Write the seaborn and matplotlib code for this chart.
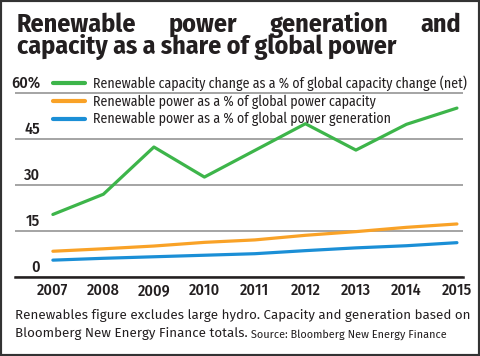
import matplotlib
matplotlib.use("Agg")
import matplotlib.pyplot as plt
from matplotlib.patches import Rectangle
import pandas as pd
import seaborn as sns

# --- data ---
years = [2007, 2008, 2009, 2010, 2011, 2012, 2013, 2014, 2015]
capacity_change = [20.4, 27.0, 42.4, 32.6, 41.3, 50.0, 41.4, 49.8, 55.1]
power_capacity = [8.4, 9.2, 10.1, 11.3, 12.1, 13.6, 14.8, 16.2, 17.3]
power_generation = [5.5, 6.1, 6.6, 7.1, 7.6, 8.6, 9.5, 10.2, 11.2]

series_names = [
    "Renewable capacity change as a % of global capacity change (net)",
    "Renewable power as a % of global power capacity",
    "Renewable power as a % of global power generation",
]
series_colors = ["#3db54a", "#f9a227", "#1b8fd6"]
y_ticks = [0, 15, 30, 45, 60]
y_tick_labels = ["0", "15", "30", "45", "60%"]

title_line1 = ["Renewable", "power", "generation", "and"]
title_line2 = "capacity as a share of global power"
note_line1 = "Renewables figure excludes large hydro. Capacity and generation based on"
note_line2 = "Bloomberg New Energy Finance totals."
source = " Source: Bloomberg New Energy Finance"

df = pd.DataFrame({
    "year": years * 3,
    "value": capacity_change + power_capacity + power_generation,
    "series": [series_names[0]] * len(years) + [series_names[1]] * len(years)
    + [series_names[2]] * len(years),
})

sns.set_theme(style="white")
plt.rcParams["font.family"] = ["Fira Sans", "DejaVu Sans"]
cond = ["Fira Sans Condensed", "DejaVu Sans"]
text_color = "#231f20"

W, H = 480, 356
fig = plt.figure(figsize=(4.8, 3.56), dpi=100)
fig.canvas.draw()
renderer = fig.canvas.get_renderer()


def width_px(t):
    return t.get_window_extent(renderer).width


def fit_size(s, target_px, base=10, **kw):
    # font size giving the text the width measured on the reference
    t = fig.text(0, 0, s, fontsize=base, **kw)
    size = base * target_px / width_px(t)
    t.remove()
    return size


ax = fig.add_axes([15 / W, 79 / H, 448 / W, 0.5253])

sns.lineplot(data=df, x="year", y="value", hue="series", hue_order=series_names,
             palette=series_colors, linewidth=2.3, ax=ax, legend=True)

ax.set_xlim(2006.25, 2015.12)
ax.set_ylim(0, 61)
ax.set_yticks(y_ticks)
ax.set_yticklabels([])
ax.yaxis.grid(True, color="#8c8c8c", linewidth=1.1)
ax.set_axisbelow(True)

tick_size = fit_size("2007", 31, family=cond, fontweight=500)
ax.set_xticks(years)
ax.set_xticklabels([str(y) for y in years], fontsize=tick_size, fontweight=500,
                   family=cond, color=text_color)
ax.tick_params(axis="x", length=0, pad=4)
ax.tick_params(axis="y", length=0)
ax.set_xlabel("")
ax.set_ylabel("")
for side in ["top", "left", "right"]:
    ax.spines[side].set_visible(False)
ax.spines["bottom"].set_color(text_color)
ax.spines["bottom"].set_linewidth(1.8)

# y labels sit just above their gridlines
for val, lab in zip(y_ticks, y_tick_labels):
    ax.text(25 / 448, val + 1.6, lab, transform=ax.get_yaxis_transform(),
            ha="right", va="baseline", fontsize=tick_size, fontweight=500,
            family=cond, color=text_color)

leg_size = fit_size(series_names[0], 374, family=cond)
leg = ax.legend(loc="upper left", bbox_to_anchor=(38 / 448, 1.079), frameon=False,
                prop={"size": leg_size, "family": cond}, handlelength=2.3,
                handletextpad=0.6, labelspacing=0.25, borderaxespad=0, borderpad=0)
for t in leg.get_texts():
    t.set_color(text_color)
for h in leg.get_lines():
    h.set_linewidth(3)

# justified title, first line
title_size = fit_size(title_line2, 380, family=cond, fontweight=700)
x0, x1 = 17 / W, 461 / W
words = [fig.text(0, 1 - 32 / H, w, fontsize=title_size, fontweight=700,
                  family=cond, color=text_color, va="baseline", ha="left")
         for w in title_line1]
widths = [width_px(w) / W for w in words]
gap = (x1 - x0 - sum(widths)) / (len(words) - 1)
x = x0
for w, wd in zip(words, widths):
    w.set_x(x)
    x += wd + gap
fig.text(x0, 1 - 54 / H, title_line2, fontsize=title_size, fontweight=700,
         family=cond, color=text_color, va="baseline", ha="left")

# footnote
note_size = fit_size(note_line1, 452)
fig.text(15 / W, 1 - 319 / H, note_line1, fontsize=note_size, color=text_color,
         va="baseline")
t2 = fig.text(15 / W, 1 - 337 / H, note_line2, fontsize=note_size, color=text_color,
              va="baseline")
ax.annotate(source, xy=(1, 0), xycoords=t2, va="bottom", ha="left",
            fontsize=note_size * 0.82, color=text_color, annotation_clip=False)

fig.patches.append(Rectangle((0, 0), 1, 1, transform=fig.transFigure, fill=False,
                             edgecolor="#333333", linewidth=3))

fig.savefig("out.png", dpi=100)
